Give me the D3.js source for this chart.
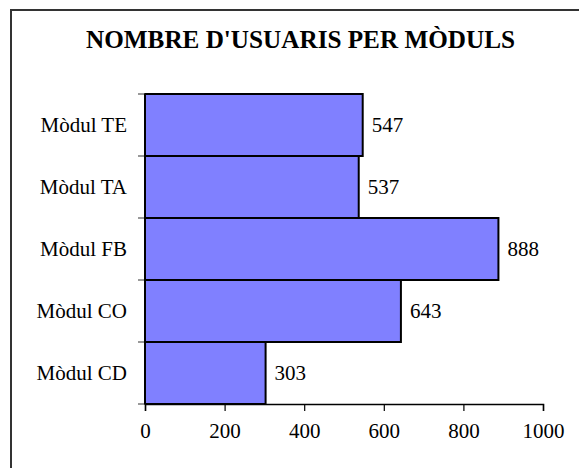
<!DOCTYPE html>
<html>
<head>
<meta charset="utf-8">
<title>Nombre d'usuaris per mòduls</title>
<script src="https://d3js.org/d3.v7.min.js"></script>
<style>
  body { margin: 0; background: #fff; }
  text { font-family: "Liberation Serif", "Times New Roman", serif; }
</style>
</head>
<body>
<script>
// data (top to bottom)
var modules = ["Mòdul TE", "Mòdul TA", "Mòdul FB", "Mòdul CO", "Mòdul CD"];
var users = [547, 537, 888, 643, 303];
var xTicks = [0, 200, 400, 600, 800, 1000];

var W = 579, H = 468;
var margin = {top: 94, right: 36, bottom: 64, left: 145};
var width = W - margin.left - margin.right,
    height = H - margin.top - margin.bottom;

var svg = d3.select("body").append("svg")
    .attr("width", W)
    .attr("height", H);

// outer frame (only top and left are inside the picture)
svg.append("rect")
    .attr("x", 11).attr("y", 10)
    .attr("width", W).attr("height", H)
    .attr("fill", "none")
    .attr("stroke", "#333")
    .attr("stroke-width", 2);

svg.append("text")
    .attr("x", 300.5).attr("y", 48)
    .attr("text-anchor", "middle")
    .attr("font-size", 25.2)
    .attr("font-weight", "bold")
    .text("NOMBRE D'USUARIS PER MÒDULS");

var g = svg.append("g")
    .attr("transform", "translate(" + margin.left + "," + margin.top + ")");

var x = d3.scaleLinear().domain([0, 1000]).range([0, width]);
var y = d3.scaleBand().domain(modules).range([0, height]).padding(0);

// bars
g.selectAll("rect.bar")
    .data(modules)
    .enter().append("rect")
      .attr("class", "bar")
      .attr("x", 0)
      .attr("y", function(d) { return y(d); })
      .attr("width", function(d, i) { return x(users[i]); })
      .attr("height", y.bandwidth())
      .attr("fill", "#8080ff")
      .attr("stroke", "#000")
      .attr("stroke-width", 2);

// value labels
g.selectAll("text.val")
    .data(modules)
    .enter().append("text")
      .attr("class", "val")
      .attr("x", function(d, i) { return x(users[i]) + 9; })
      .attr("y", function(d) { return y(d) + y.bandwidth() / 2; })
      .attr("dy", "0.33em")
      .attr("font-size", 21)
      .text(function(d, i) { return users[i]; });

// x axis
var xAxis = g.append("g")
    .attr("transform", "translate(0," + height + ")")
    .call(d3.axisBottom(x).tickValues(xTicks).tickSize(7).tickPadding(12).tickFormat(d3.format("d")));
xAxis.select(".domain").attr("stroke", "#000").attr("stroke-width", 1.5);
xAxis.selectAll(".tick line").attr("stroke", "#000").attr("stroke-width", 1.2);
xAxis.selectAll(".tick text")
    .attr("font-size", 21)
    .attr("font-family", "'Liberation Serif', serif")
    .attr("fill", "#000");

// y axis: ticks sit on the band boundaries
var boundaries = modules.map(function(d) { return y(d); }).concat([height]);
g.selectAll("line.ytick")
    .data(boundaries)
    .enter().append("line")
      .attr("class", "ytick")
      .attr("x1", -7).attr("x2", 0)
      .attr("y1", function(d) { return d; })
      .attr("y2", function(d) { return d; })
      .attr("stroke", "#555")
      .attr("stroke-width", 1.2);
g.append("line")
    .attr("x1", 0).attr("x2", 0)
    .attr("y1", 0).attr("y2", height)
    .attr("stroke", "#000")
    .attr("stroke-width", 2);

g.selectAll("text.cat")
    .data(modules)
    .enter().append("text")
      .attr("class", "cat")
      .attr("x", -18)
      .attr("y", function(d) { return y(d) + y.bandwidth() / 2; })
      .attr("dy", "0.33em")
      .attr("text-anchor", "end")
      .attr("font-size", 21)
      .text(function(d) { return d; });
</script>
</body>
</html>
